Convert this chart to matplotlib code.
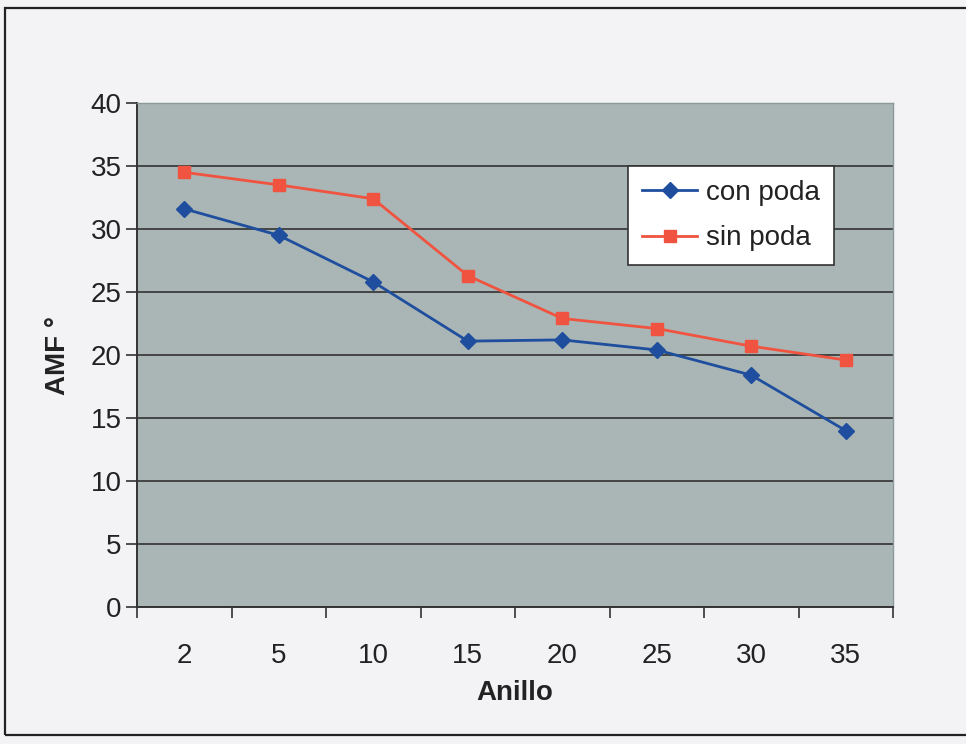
import matplotlib.pyplot as plt
from matplotlib.patches import Rectangle
from matplotlib.ticker import FixedLocator, MultipleLocator

plt.rcParams["font.family"] = ["Liberation Sans", "DejaVu Sans"]

anillos = ["2", "5", "10", "15", "20", "25", "30", "35"]
con_poda = [31.6, 29.5, 25.8, 21.1, 21.2, 20.4, 18.4, 14.0]
sin_poda = [34.5, 33.5, 32.4, 26.3, 22.9, 22.1, 20.7, 19.6]

W, H = 966, 744
fig = plt.figure(figsize=(W / 100, H / 100), dpi=100)
fig.patch.set_facecolor("#f3f2f4")

# chart border (scan shows it cut off on the right)
fig.add_artist(Rectangle((5 / W, 1 - 735 / H), (W + 10) / W, (735 - 8) / H,
                         transform=fig.transFigure, fill=False,
                         edgecolor="#222222", linewidth=1.6))

ax = fig.add_axes([137 / W, 1 - 607 / H, (893 - 137) / W, (607 - 103) / H])
ax.set_facecolor("#a9b6b5")

x = list(range(len(anillos)))
ax.plot(x, con_poda, color="#1f4e9e", marker="D", markersize=8, linewidth=2,
        label="con poda", zorder=3)
ax.plot(x, sin_poda, color="#f0533f", marker="s", markersize=9, linewidth=2,
        label="sin poda", zorder=3)

ax.set_xlim(-0.5, len(anillos) - 0.5)
ax.set_ylim(0, 40)
ax.yaxis.set_major_locator(MultipleLocator(5))
ax.set_xticks(x)
ax.set_xticklabels(anillos)
ax.xaxis.set_minor_locator(FixedLocator([i - 0.5 for i in range(len(anillos) + 1)]))
ax.tick_params(axis="x", which="major", length=0, pad=26, labelsize=20,
               labelcolor="#222222")
ax.tick_params(axis="x", which="minor", length=8, width=1.2, direction="out",
               color="#333333")
ax.tick_params(axis="y", length=8, width=1.2, direction="out", color="#333333",
               labelsize=20, pad=3, labelcolor="#222222")

ax.grid(axis="y", color="#333333", linewidth=1.2)
ax.set_axisbelow(True)
for side in ("left", "bottom"):
    ax.spines[side].set_color("#333333")
    ax.spines[side].set_linewidth(1.4)
for side in ("top", "right"):
    ax.spines[side].set_color("#8a9a98")
    ax.spines[side].set_linewidth(1.0)

ax.set_xlabel("Anillo", fontsize=20, fontweight="bold", labelpad=8, color="#222222")
ax.set_ylabel("AMF °", fontsize=20, fontweight="bold", labelpad=14, color="#222222")

leg = ax.legend(loc="upper left", bbox_to_anchor=((628 - 137) / 756, (607 - 166) / 504),
                fontsize=20, frameon=True, fancybox=False, framealpha=1,
                handlelength=2.0, handletextpad=0.3, borderpad=0.5,
                labelspacing=0.7, borderaxespad=0)
leg.get_frame().set_edgecolor("#333333")
leg.get_frame().set_linewidth(1.2)
for t in leg.get_texts():
    t.set_color("#222222")

fig.savefig("out.png", dpi=100, facecolor=fig.get_facecolor())
